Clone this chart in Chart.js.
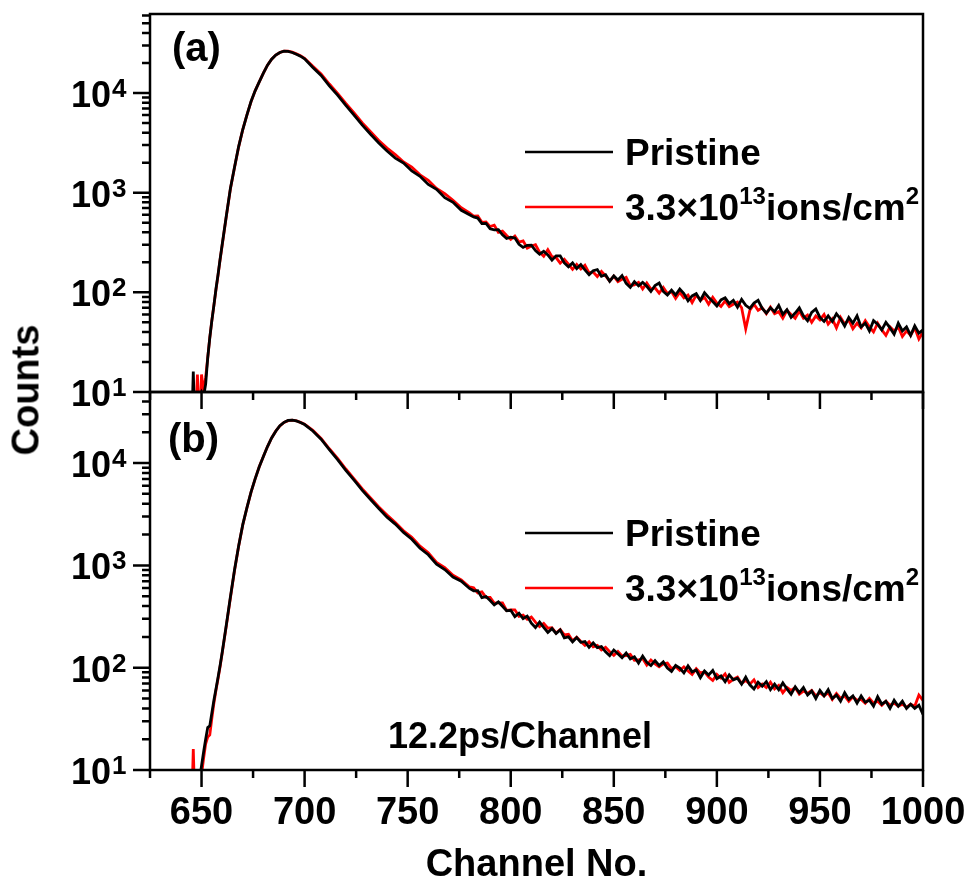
<!DOCTYPE html>
<html>
<head>
<meta charset="utf-8">
<script src="https://cdn.jsdelivr.net/npm/chart.js@4.4.1/dist/chart.umd.min.js"></script>
<style>
  html, body { margin: 0; padding: 0; background: #fff; }
  #wrap { position: relative; width: 973px; height: 885px; overflow: hidden; }
  canvas { position: absolute; left: 0; }
  #cTop { top: 0; }
  #cBot { top: 380px; }
  #yTitle {
    position: absolute; left: 26px; top: 390px;
    transform: translate(-50%, -50%) rotate(-90deg);
    font: bold 38px "Liberation Sans", Arial, sans-serif;
    white-space: nowrap; color: #000;
  }
</style>
</head>
<body>
<div id="wrap">
  <canvas id="cTop" width="973" height="420"></canvas>
  <canvas id="cBot" width="973" height="505"></canvas>
  <div id="yTitle">Counts</div>
</div>
<script>
// ====== DATA ======
const FONT = '"Liberation Sans", Arial, sans-serif';

const channels = [
  645, 646, 647, 648, 649, 650, 651, 652, 653, 654, 655, 656, 657, 658, 659, 660,
  662, 664, 666, 668, 670, 672, 674, 676, 678, 680, 682, 684, 686, 688, 690, 692, 694, 696, 698, 700,
  704, 708, 712, 716, 720, 724, 728, 732, 736, 740, 744, 748, 752, 756, 760, 764, 768, 772, 776, 780,
  782, 784, 786, 788, 790, 792, 794, 796, 798, 800,
  802, 804, 806, 808, 810, 812, 814, 816, 818, 820,
  822, 824, 826, 828, 830, 832, 834, 836, 838, 840,
  842, 844, 846, 848, 850, 852, 854, 856, 858, 860,
  862, 864, 866, 868, 870, 872, 874, 876, 878, 880,
  882, 884, 886, 888, 890, 892, 894, 896, 898, 900,
  902, 904, 906, 908, 910, 912, 914, 916, 918, 920,
  922, 924, 926, 928, 930, 932, 934, 936, 938, 940,
  942, 944, 946, 948, 950, 952, 954, 956, 958, 960,
  962, 964, 966, 968, 970, 972, 974, 976, 978, 980,
  982, 984, 986, 988, 990, 992, 994, 996, 998, 1000
];

// panel (a)
const pristineA = [
  3, 16, 3, 3, 9, 10, 9, 12, 22, 35, 52, 74, 108, 150, 215, 300,
  580, 1100, 1800, 2900, 4300, 6000, 8200, 10500, 12900, 15800, 19000, 21800, 24000, 25500, 26300, 26200, 25500, 24500, 23400, 22000,
  18000, 15000, 11800, 9500, 7500, 6000, 4750, 3850, 3150, 2620, 2220, 1980, 1650, 1460, 1210, 1080, 890, 800, 665, 600,
  571, 556, 490, 492, 434, 424, 425, 377, 347, 357,
  350, 303, 282, 296, 297, 262, 241, 258, 237, 210,
  232, 232, 197, 180, 197, 173, 190, 168, 150, 165,
  169, 145, 150, 129, 146, 133, 147, 123, 112, 128,
  116, 126, 115, 102, 117, 124, 102, 94, 105, 94,
  108, 97, 82, 92, 97, 83, 99, 89, 81, 73,
  84, 88, 77, 83, 71, 85, 74, 69, 78, 83,
  69, 62, 70, 64, 74, 60, 67, 56, 62, 70,
  58, 52, 63, 68, 56, 51, 58, 51, 61, 54,
  46, 56, 49, 58, 45, 49, 41, 52, 48, 42,
  50, 44, 38, 49, 41, 45, 37, 46, 39, 42
];
const fluenceA = [
  3, 3, 4, 15, 4, 15, 10, 14, 22, 35, 52, 74, 106, 148, 212, 295,
  575, 1090, 1790, 2880, 4280, 5980, 8150, 10500, 12900, 15800, 19000, 21800, 24000, 25500, 26300, 26300, 25700, 24700, 23600, 22300,
  18500, 15500, 12300, 9900, 7850, 6300, 5000, 4080, 3330, 2800, 2410, 2030, 1800, 1510, 1330, 1100, 975, 840, 705, 625,
  582, 584, 504, 507, 456, 472, 400, 412, 372, 339,
  367, 319, 328, 278, 292, 300, 253, 230, 268, 228,
  223, 196, 215, 192, 170, 191, 171, 187, 157, 160,
  144, 162, 146, 130, 145, 128, 135, 141, 117, 119,
  126, 108, 124, 108, 111, 98, 112, 97, 102, 87,
  100, 88, 94, 79, 94, 83, 89, 76, 89, 78,
  72, 82, 72, 76, 80, 70, 43, 66, 76, 66,
  70, 61, 71, 61, 64, 55, 66, 60, 55, 65,
  55, 59, 50, 58, 53, 60, 48, 54, 44, 56,
  48, 53, 43, 49, 44, 52, 45, 40, 49, 42,
  37, 45, 41, 45, 36, 41, 37, 44, 34, 40
];

// panel (b)
const pristineB = [
  3, 3, 3, 4, 8, 11, 15, 20, 26, 27, 36, 48, 62, 80, 105, 140,
  260, 490, 900, 1550, 2500, 3650, 5200, 7000, 9200, 11600, 14500, 17600, 20500, 23200, 25000, 26100, 26300, 25800, 24900, 23800,
  20600, 17100, 13500, 10800, 8500, 6800, 5400, 4400, 3600, 2960, 2530, 2100, 1800, 1470, 1270, 1030, 910, 770, 700, 595,
  564, 567, 485, 496, 453, 410, 439, 398, 360, 364,
  316, 341, 302, 319, 272, 247, 279, 248, 221, 241,
  216, 234, 196, 200, 179, 197, 177, 180, 158, 175,
  157, 161, 143, 131, 149, 137, 125, 139, 122, 128,
  111, 130, 113, 105, 117, 105, 114, 99, 92, 105,
  99, 89, 104, 91, 95, 80, 93, 85, 94, 78,
  83, 73, 85, 76, 79, 69, 81, 68, 62, 72,
  66, 73, 61, 69, 61, 71, 62, 55, 65, 57,
  64, 54, 59, 50, 60, 53, 61, 50, 54, 47,
  57, 49, 53, 45, 53, 46, 48, 42, 52, 44,
  47, 40, 48, 42, 47, 40, 44, 40, 43, 35
];
const fluenceB = [
  3, 16, 3, 3, 3, 9, 13, 18, 21, 22, 32, 45, 60, 78, 102, 138,
  255, 480, 890, 1540, 2480, 3640, 5180, 7000, 9200, 11600, 14500, 17600, 20500, 23100, 24900, 26000, 26300, 25900, 25000, 24000,
  20900, 17400, 13800, 11100, 8750, 7000, 5600, 4550, 3720, 3100, 2620, 2180, 1880, 1540, 1330, 1070, 950, 800, 720, 615,
  604, 539, 551, 486, 486, 427, 430, 430, 363, 368,
  368, 318, 326, 298, 313, 279, 252, 271, 243, 246,
  218, 236, 209, 212, 183, 199, 180, 165, 179, 160,
  165, 149, 158, 143, 132, 144, 130, 131, 135, 118,
  119, 123, 106, 119, 109, 102, 109, 111, 98, 102,
  94, 102, 93, 86, 98, 89, 91, 81, 75, 86,
  79, 87, 72, 77, 81, 70, 75, 69, 76, 64,
  69, 64, 72, 62, 67, 57, 64, 60, 64, 55,
  59, 56, 60, 53, 57, 53, 57, 49, 56, 50,
  53, 47, 52, 48, 49, 45, 50, 45, 47, 43,
  47, 43, 45, 42, 44, 41, 44, 42, 54, 48
];

// legend labels as [text, superscript?] pieces
const seriesLabels = [
  [["Pristine", false]],
  [["3.3\u00d710", false], ["13", true], ["ions/cm", false], ["2", true]]
];
const xTickValues = [625, 650, 675, 700, 725, 750, 775, 800, 825, 850, 875, 900, 925, 950, 975, 1000];
const yTickValues = [
  10, 20, 30, 40, 50, 60, 70, 80, 90,
  100, 200, 300, 400, 500, 600, 700, 800, 900,
  1000, 2000, 3000, 4000, 5000, 6000, 7000, 8000, 9000,
  10000, 20000, 30000, 40000, 50000, 60000
];

// ====== HELPERS ======
const pts = (vals) => channels.map((c, i) => ({ x: c, y: vals[i] }));
const isDecade = (v) => Math.abs(Math.log10(v) - Math.round(Math.log10(v))) < 1e-6;

function drawRich(ctx, parts, x, base, size, supSize) {
  ctx.textAlign = "left";
  ctx.textBaseline = "alphabetic";
  parts.forEach(([txt, sup]) => {
    ctx.font = `bold ${sup ? supSize : size}px ${FONT}`;
    ctx.fillText(txt, x, sup ? base - 16 : base);
    x += ctx.measureText(txt).width;
  });
}

const panelPlugin = {
  id: "panel",
  afterDraw(chart, args, o) {
    const { ctx, chartArea: a, scales: { x, y } } = chart;
    ctx.save();
    ctx.strokeStyle = "#000";
    ctx.fillStyle = "#000";
    ctx.lineWidth = 2.5;
    ctx.lineCap = "butt";
    ctx.strokeRect(a.left, a.top, a.right - a.left, a.bottom - a.top);

    ctx.beginPath();
    y.ticks.forEach((t) => {
      const py = y.getPixelForValue(t.value);
      const len = isDecade(t.value) ? 17 : 8;
      ctx.moveTo(a.left - len, py);
      ctx.lineTo(a.left, py);
    });
    x.ticks.forEach((t) => {
      const px = x.getPixelForValue(t.value);
      const len = t.value % 50 === 0 ? 17 : 8;
      ctx.moveTo(px, a.bottom);
      ctx.lineTo(px, a.bottom + len);
    });
    ctx.stroke();

    // decade labels 10^n
    y.ticks.filter((t) => isDecade(t.value)).forEach((t) => {
      const py = y.getPixelForValue(t.value);
      const exp = Math.round(Math.log10(t.value));
      ctx.font = `bold 36px ${FONT}`;
      ctx.textAlign = "right";
      ctx.textBaseline = "alphabetic";
      ctx.fillText("10", a.left - 39, py + 14);
      ctx.font = `bold 26px ${FONT}`;
      ctx.textAlign = "left";
      ctx.fillText(String(exp), a.left - 38, py + 4);
    });

    // panel tag
    ctx.font = `bold 40px ${FONT}`;
    ctx.textAlign = "left";
    ctx.fillText(o.tag, o.tagX, o.tagY);

    // legend
    chart.data.datasets.forEach((ds, i) => {
      const ly = o.legendY[i];
      ctx.strokeStyle = ds.borderColor;
      ctx.lineWidth = 2.5;
      ctx.beginPath();
      ctx.moveTo(525, ly);
      ctx.lineTo(613, ly);
      ctx.stroke();
      drawRich(ctx, seriesLabels[i], 625, ly + 13, 37, 24);
    });

    if (o.note) {
      ctx.font = `bold 36px ${FONT}`;
      ctx.textAlign = "left";
      ctx.fillText(o.note, 388, o.noteY);
    }
    ctx.restore();
  }
};

function makeChart(id, cfg) {
  return new Chart(document.getElementById(id), {
    type: "line",
    data: {
      datasets: [
        { label: "Pristine", data: pts(cfg.black), borderColor: "#000000" },
        { label: "3.3x10^13 ions/cm^2", data: pts(cfg.red), borderColor: "#ff0000" }
      ]
    },
    options: {
      responsive: false,
      animation: false,
      layout: { padding: { top: cfg.padTop, right: 50, left: 0, bottom: 0 } },
      elements: { point: { radius: 0 }, line: { borderWidth: 2.8, tension: 0, fill: false } },
      plugins: {
        legend: { display: false },
        tooltip: { enabled: false },
        panel: { tag: cfg.tag, tagX: cfg.tagX, tagY: cfg.tagY, legendY: cfg.legendY, note: cfg.note, noteY: cfg.noteY }
      },
      scales: {
        x: {
          type: "linear",
          min: 625,
          max: 1000,
          afterBuildTicks: (s) => { s.ticks = xTickValues.map((v) => ({ value: v })); },
          afterFit: (s) => {
            s.height = cfg.xHeight;
            s.paddingLeft = 0;
            s.paddingRight = 0;
          },
          grid: { display: false },
          border: { display: false },
          ticks: {
            display: cfg.xLabels,
            autoSkip: false,
            maxRotation: 0,
            padding: 13,
            color: "#000",
            font: { family: FONT, size: 38, weight: "bold" },
            callback: (v) => (v % 50 === 0 ? String(v) : "")
          },
          title: {
            display: cfg.xLabels,
            text: "Channel No.",
            color: "#000",
            padding: 0,
            font: { family: FONT, size: 38, weight: "bold", lineHeight: 1.0 }
          }
        },
        y: {
          type: "logarithmic",
          min: 10,
          max: cfg.yMax,
          afterBuildTicks: (s) => { s.ticks = yTickValues.filter((v) => v <= cfg.yMax).map((v) => ({ value: v })); },
          afterFit: (s) => { s.width = 150; },
          grid: { display: false },
          border: { display: false },
          ticks: { display: false }
        }
      }
    },
    plugins: [panelPlugin]
  });
}

makeChart("cTop", {
  black: pristineA, red: fluenceA,
  padTop: 14, xHeight: 28, xLabels: false, yMax: 62000,
  tag: "(a)", tagX: 172, tagY: 61, legendY: [152, 207]
});

makeChart("cBot", {
  black: pristineB, red: fluenceB,
  padTop: 12, xHeight: 115, xLabels: true, yMax: 49500,
  tag: "(b)", tagX: 168, tagY: 72, legendY: [153, 208],
  note: "12.2ps/Channel", noteY: 368
});
</script>
</body>
</html>
